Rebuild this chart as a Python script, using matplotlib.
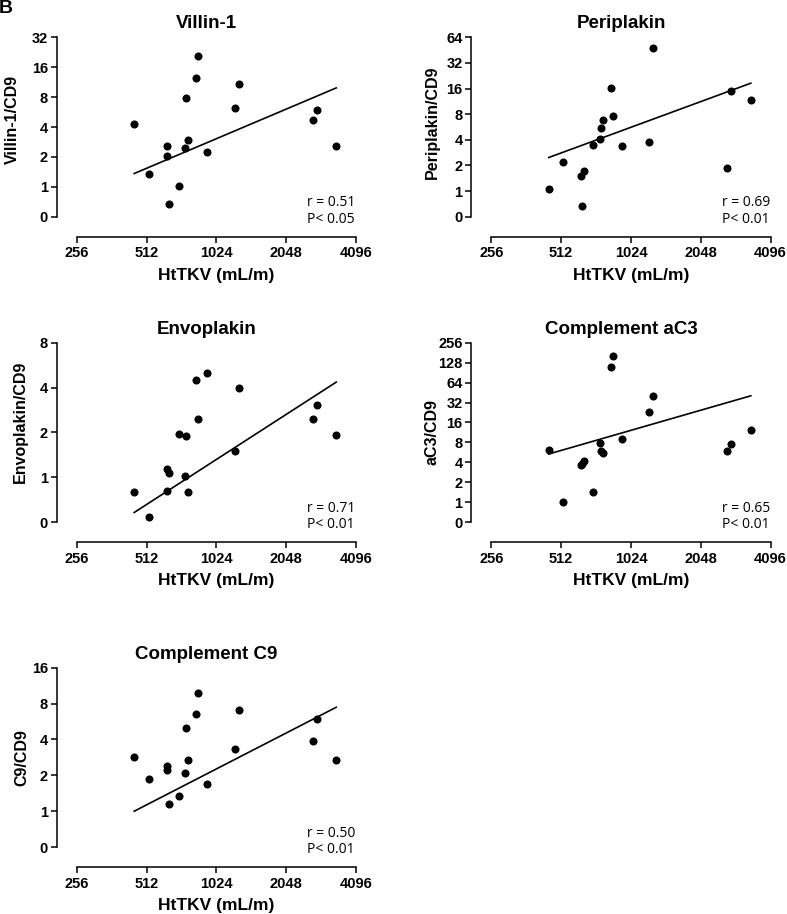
"""Five log2-log2 scatter panels: urinary EV proteins vs HtTKV."""

import matplotlib

matplotlib.use("Agg")
import matplotlib.pyplot as plt
import matplotlib.ticker as mticker

plt.rcParams["font.family"] = ["Liberation Sans", "DejaVu Sans"]
plt.rcParams["font.weight"] = "bold"
plt.rcParams["axes.labelweight"] = "bold"

# ── Data ─────────────────────────────────────────────────────────────────────

HTTKV = [453, 524, 625, 628, 643, 705, 753, 760, 776, 837, 856, 935, 1231, 1276, 2667, 2775, 3366]

VILLIN = [4.32, 1.36, 2.56, 2.03, 0.67, 1.02, 2.48, 7.82, 2.96, 12.4, 20.6, 2.23, 6.16, 10.9, 4.74, 5.88, 2.58]
PERIPLAKIN = [1.07, 2.17, 1.51, 0.67, 1.73, 3.46, 4.04, 5.48, 6.8, 16.4, 7.65, 3.40, 3.76, 48.0, 1.89, 14.9, 11.6]
ENVOPLAKIN = [0.80, 0.54, 0.81, 1.13, 1.075, 1.94, 1.02, 1.90, 0.80, 4.47, 2.46, 5.03, 1.50, 3.97, 2.46, 3.06, 1.91]
AC3 = [6.14, 1.01, 3.64, 3.8, 4.23, 1.40, 7.93, 5.93, 5.53, 110, 163, 9.0, 22.8, 39.5, 5.86, 7.57, 12.3]
C9 = [2.86, 1.86, 2.39, 2.21, 1.15, 1.35, 2.10, 5.02, 2.70, 6.58, 9.76, 1.68, 3.30, 7.11, 3.88, 5.90, 2.68]

# regression line end points (x = min/max HtTKV)
FIT_X = [453, 3366]
VILLIN_FIT = [1.36, 9.9]
PERIPLAKIN_FIT = [2.48, 18.5]
ENVOPLAKIN_FIT = [0.58, 4.35]
AC3_FIT = [5.34, 40.4]
C9_FIT = [1.0, 7.45]

X_TICKS = [256, 512, 1024, 2048, 4096]

PANELS = [
    # title, ylabel, values, fit, y max, r, p, (col, row), ylabel coords
    ("Villin-1", "Villin-1/CD9", VILLIN, VILLIN_FIT, 32, "0.51", "0.05", (0, 0), (-0.229, 0.54)),
    ("Periplakin", "Periplakin/CD9", PERIPLAKIN, PERIPLAKIN_FIT, 64, "0.69", "0.01", (1, 0), (-0.212, 0.525)),
    ("Envoplakin", "Envoplakin/CD9", ENVOPLAKIN, ENVOPLAKIN_FIT, 8, "0.71", "0.01", (0, 1), (-0.203, 0.56)),
    ("Complement aC3", "aC3/CD9", AC3, AC3_FIT, 256, "0.65", "0.01", (1, 1), (-0.211, 0.5)),
    ("Complement C9", "C9/CD9", C9, C9_FIT, 16, "0.50", "0.01", (0, 2), (-0.197, 0.5)),
]

FIG_W, FIG_H = 787, 914
COL_LEFT = [76.7, 491.3]
ROW_TOP = [37.3, 342.7, 667.7]
AX_W, AX_H = 279.3, 179.4
OFFSET_PX = 20


def draw_panel(fig, title, ylabel, values, fit, ymax, r, p, pos, ylab_xy):
    col, row = pos
    left = COL_LEFT[col] / FIG_W
    bottom = 1 - (ROW_TOP[row] + AX_H) / FIG_H
    ax = fig.add_axes([left, bottom, AX_W / FIG_W, AX_H / FIG_H])

    ax.plot(HTTKV, values, "o", color="black", ms=5.8, mew=0, clip_on=False)
    ax.plot(FIT_X, fit, "-", color="black", lw=1.2)

    ax.set_xscale("log", base=2)
    ax.set_yscale("log", base=2)
    ax.set_xlim(256, 4096)
    ax.set_ylim(0.5, ymax)

    ax.xaxis.set_major_locator(mticker.FixedLocator(X_TICKS))
    ax.xaxis.set_major_formatter(mticker.FixedFormatter([str(t) for t in X_TICKS]))
    yticks = [0.5]
    v = 1
    while v <= ymax:
        yticks.append(v)
        v *= 2
    ax.yaxis.set_major_locator(mticker.FixedLocator(yticks))
    ax.yaxis.set_major_formatter(
        mticker.FixedFormatter(["0"] + [str(int(t)) for t in yticks[1:]])
    )
    ax.xaxis.set_minor_locator(mticker.NullLocator())
    ax.yaxis.set_minor_locator(mticker.NullLocator())

    for side in ("top", "right"):
        ax.spines[side].set_visible(False)
    off = OFFSET_PX * 72 / fig.dpi
    for side in ("left", "bottom"):
        ax.spines[side].set_position(("outward", off))
        ax.spines[side].set_linewidth(1.1)
    ax.tick_params(direction="out", length=4.3, width=1.1, labelsize=10.5)
    ax.tick_params(axis="x", pad=2.5)
    ax.tick_params(axis="y", pad=2.0)
    for lbl in ax.get_xticklabels() + ax.get_yticklabels():
        lbl.set_fontweight("bold")

    ax.set_xlabel("HtTKV (mL/m)", fontsize=12.5, va="center")
    ax.xaxis.set_label_coords(0.5, -(OFFSET_PX + 38.5) / AX_H)
    ax.set_ylabel(ylabel, fontsize=11.5, va="center")
    ax.yaxis.set_label_coords(*ylab_xy)

    title_x = (COL_LEFT[col] - OFFSET_PX + COL_LEFT[col] + AX_W) / 2
    ax.text(
        (title_x - COL_LEFT[col]) / AX_W, 1 + 13.7 / AX_H, title,
        transform=ax.transAxes, ha="center", va="center", fontsize=13.5,
    )

    stat_font = dict(family=["Open Sans", "DejaVu Sans"], weight="normal", fontsize=10)
    ax.text(0.825, 14 / AX_H, f"r = {r}", transform=ax.transAxes,
            ha="left", va="center", **stat_font)
    ax.text(0.825, -2.8 / AX_H, f"P< {p}", transform=ax.transAxes,
            ha="left", va="center", **stat_font)


def main():
    fig = plt.figure(figsize=(FIG_W / 100, FIG_H / 100), dpi=100)
    for panel in PANELS:
        draw_panel(fig, *panel)
    fig.text(-0.001, 1.0, "B", ha="left", va="top", fontsize=14)
    fig.savefig("out.png", dpi=100)


if __name__ == "__main__":
    main()
